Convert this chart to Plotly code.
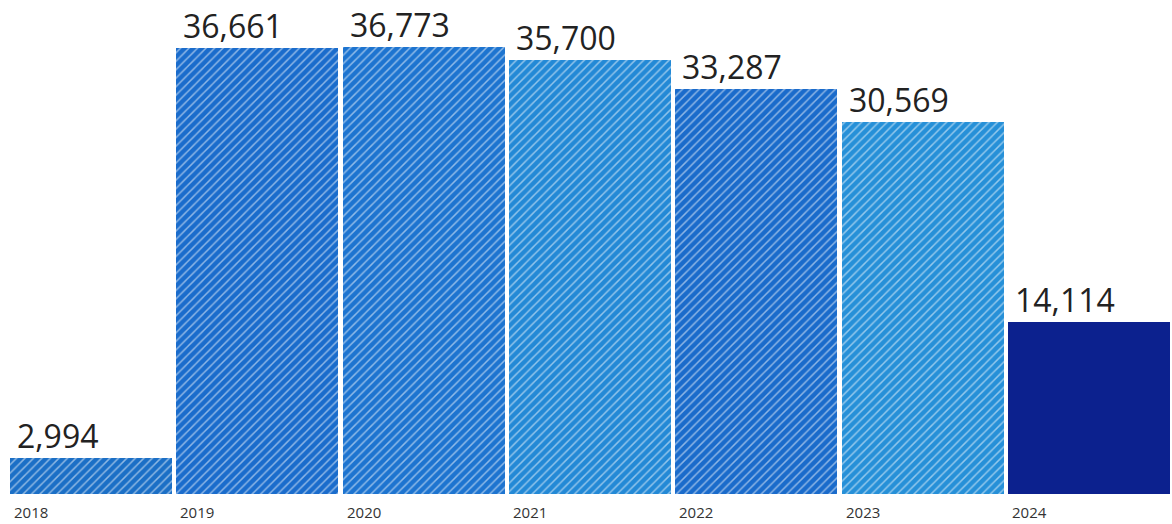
import plotly.graph_objects as go

years = ["2018", "2019", "2020", "2021", "2022", "2023", "2024"]
values = [2994, 36661, 36773, 35700, 33287, 30569, 14114]
labels = ["2,994", "36,661", "36,773", "35,700", "33,287", "30,569", "14,114"]
bar_colors = ["#1b6fc6", "#1a6ccc", "#1d74d0", "#2389d6", "#1a6bcb", "#2690d8", "#0c218e"]
hatch_colors = ["#3f8fd8", "#3f8ddc", "#4294de", "#48a6e2", "#3f8cda", "#4aa9e4", "#0c218e"]
hatch_shapes = ["/", "/", "/", "/", "/", "/", ""]

W = 0.975
xs = list(range(len(years)))

fig = go.Figure()
fig.add_trace(go.Bar(
    x=xs, y=values, width=W,
    marker=dict(
        color=bar_colors,
        line=dict(width=0),
        pattern=dict(shape=hatch_shapes, fgcolor=hatch_colors, size=6, solidity=0.25),
    ),
    hoverinfo="skip",
))

for i, (v, lab, yr) in enumerate(zip(values, labels, years)):
    fig.add_annotation(x=i - W / 2, y=v, text=lab, showarrow=False,
                       xanchor="left", yanchor="bottom", yshift=-1, xshift=5,
                       font=dict(family="Open Sans", size=32, color="#222222"))
    fig.add_annotation(x=i - W / 2, y=0, text=yr, showarrow=False,
                       xanchor="left", yanchor="top", yshift=-6, xshift=2,
                       font=dict(family="Open Sans", size=15, color="#333333"))

fig.update_layout(
    width=1172, height=524,
    margin=dict(l=8, r=0, t=0, b=30),
    plot_bgcolor="white", paper_bgcolor="white",
    showlegend=False,
    bargap=0,
    xaxis=dict(range=[-0.5, 6.5], visible=False, fixedrange=True),
    yaxis=dict(range=[0, 40600], visible=False, fixedrange=True),
)

fig.write_html(
    "out.html",
    config={"displayModeBar": False},
    post_script="document.body.style.margin='0';document.body.style.overflow='hidden';",
)
